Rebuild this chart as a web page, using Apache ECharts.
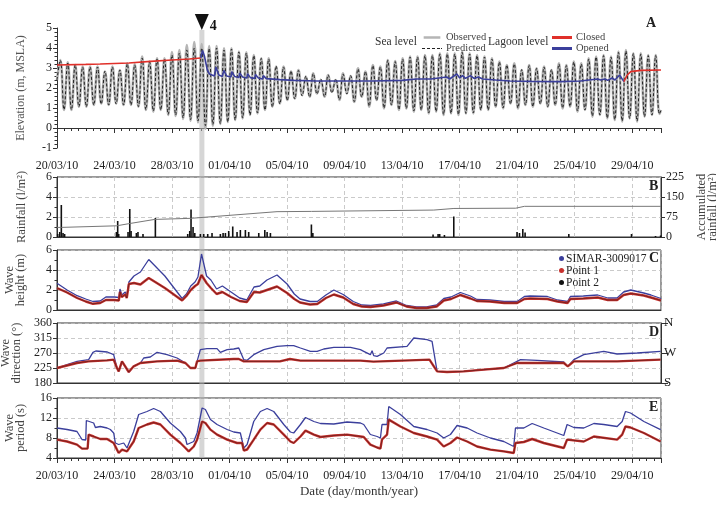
<!DOCTYPE html>
<html>
<head>
<meta charset="utf-8">
<script src="https://cdn.jsdelivr.net/npm/echarts/dist/echarts.min.js"></script>
<style>
  html, body { margin: 0; padding: 0; background: #fff; }
  #main { width: 716px; height: 508px; }
</style>
</head>
<body>
<div id="main"></div>
<script>
// x values are days after 20/03/2010 00:00 (axis runs to 01/05/2010)

// ---- panel A: sea level (high / low water per tide) and lagoon level
var tideStart = 0.23, tidePeriod = 0.5175;
var tideFirst = 2.4, tideLast = 0.9;
var obsHigh = [3.4,3.28,3.15,3.07,3.07,3.07,2.82,3.07,2.9,3.23,3.18,3.57,3.32,3.48,3.48,3.8,3.9,4.15,4.3,4.2,4.1,4.1,3.98,3.98,3.82,3.78,3.65,3.48,3.48,3.07,3.07,2.82,2.9,2.57,2.73,2.4,2.65,2.4,2.73,2.6,
  2.98,2.82,3.15,3.07,3.4,3.35,3.48,3.57,3.57,3.65,3.65,3.73,3.73,3.73,3.82,3.73,3.65,3.57,3.48,3.32,3.15,3.23,2.9,3.15,2.98,3.07,2.9,3.23,3.15,3.32,3.23,3.48,3.57,3.65,3.57,3.82,3.9,3.73,3.73,3.65,3.65];
var obsLow = [0.9,0.9,1.07,1.07,1.15,1.23,1.15,1.23,1.15,1.15,1.07,0.9,0.82,0.9,0.65,0.6,0.45,0.35,0.28,-0.05,0.1,0.2,0.3,0.4,0.48,0.65,0.73,0.9,1.07,1.23,1.4,1.48,1.65,1.57,1.73,1.57,1.82,1.4,1.73,1.3,
  1.57,1.07,1.4,0.98,1.15,0.9,0.98,0.82,0.9,0.73,0.82,0.65,0.73,0.65,0.73,0.73,0.9,0.9,1.07,0.98,1.23,0.98,1.15,1.07,1.23,1.07,1.15,0.98,1.07,0.82,0.9,0.57,0.65,0.48,0.4,0.32,0.48,0.32,0.57,0.65,0.7];
var predHigh = [3.38,3.25,3.15,3.05,3.05,3.05,2.85,3.05,2.9,3.2,3.15,3.5,3.3,3.45,3.45,3.65,3.75,3.9,4.0,4.0,3.98,4.0,3.9,3.95,3.8,3.75,3.62,3.48,3.45,3.1,3.05,2.85,2.88,2.6,2.72,2.45,2.65,2.45,2.7,2.62,
  2.95,2.82,3.12,3.05,3.38,3.32,3.45,3.55,3.55,3.62,3.62,3.7,3.7,3.7,3.78,3.7,3.62,3.55,3.45,3.3,3.15,3.2,2.92,3.12,2.98,3.05,2.92,3.2,3.12,3.3,3.2,3.45,3.55,3.62,3.55,3.78,3.85,3.72,3.7,3.62,3.62];
var predLow = [0.92,0.92,1.07,1.07,1.15,1.2,1.15,1.2,1.15,1.15,1.07,0.92,0.85,0.9,0.68,0.65,0.5,0.42,0.35,0.12,0.18,0.22,0.3,0.4,0.5,0.65,0.75,0.9,1.05,1.2,1.38,1.45,1.6,1.55,1.7,1.57,1.75,1.42,1.7,1.32,
  1.55,1.1,1.38,1.0,1.15,0.92,0.98,0.85,0.9,0.75,0.82,0.68,0.73,0.68,0.73,0.75,0.9,0.9,1.05,1.0,1.2,1.0,1.15,1.07,1.2,1.07,1.15,1.0,1.07,0.85,0.9,0.6,0.65,0.5,0.42,0.35,0.48,0.35,0.57,0.65,0.7];

var closedT1 = [0, 2, 3, 5.0, 5.05, 6.5, 8.0, 9.2, 10.0];
var closedV1 = [3.15, 3.18, 3.2, 3.25, 3.3, 3.33, 3.4, 3.45, 3.5];
var openedT = [10.0, 10.12, 10.25, 10.45, 10.6, 10.95, 11.05, 11.25, 11.5, 11.6, 11.8, 12.1, 12.15, 12.35, 12.65, 12.7, 12.9, 13.2, 13.25, 13.45, 13.75, 13.8, 14.0, 14.3, 14.35, 14.55, 15.5, 16.5, 18, 20, 22, 24, 25, 26, 27.1, 27.3, 27.8, 28.0, 28.2, 28.4, 28.75, 29.0, 29.3, 29.6, 30.5, 31.5, 33, 35, 36.4, 37.0, 37.6, 37.8, 38.1, 38.3, 38.6, 38.8, 39.12, 39.42];
var openedV = [3.5, 3.88, 3.6, 2.9, 2.7, 2.6, 3.05, 2.65, 2.58, 2.88, 2.6, 2.55, 2.82, 2.58, 2.52, 2.75, 2.55, 2.5, 2.72, 2.52, 2.48, 2.68, 2.5, 2.45, 2.62, 2.47, 2.42, 2.38, 2.35, 2.35, 2.35, 2.38, 2.45, 2.45, 2.55, 2.45, 2.7, 2.5, 2.62, 2.48, 2.62, 2.48, 2.55, 2.45, 2.4, 2.35, 2.33, 2.32, 2.35, 2.4, 2.45, 2.4, 2.45, 2.38, 2.5, 2.4, 2.65, 2.32];
var closedT2 = [39.42, 39.65, 39.9, 40.6, 42];
var closedV2 = [2.32, 2.65, 2.82, 2.88, 2.9];
var eventDay = 10.07, eventLabel = '4';

// ---- panel B: rainfall
var rainT = [0.05,0.19,0.30,0.42,0.53,4.13,4.22,4.29,4.94,5.06,5.15,5.52,5.63,5.98,6.84,9.09,9.23,9.32,9.46,9.58,9.97,10.2,10.48,10.78,11.36,11.55,11.71,11.94,12.22,12.52,12.75,13.1,13.33,14.03,14.45,14.61,14.84,17.69,17.79,26.15,26.5,26.61,26.94,27.59,31.99,32.16,32.39,32.55,35.59,39.95,41.62,41.97];
var rainV = [0.3,0.5,3.2,0.4,0.3,0.5,1.6,0.3,0.5,2.8,0.6,0.4,0.5,0.3,1.9,0.3,0.6,2.75,1.0,0.4,0.3,0.3,0.3,0.4,0.3,0.4,0.4,0.6,1.05,0.5,0.7,0.7,0.5,0.4,0.7,0.5,0.4,1.25,0.4,0.25,0.3,0.3,0.2,2.05,0.5,0.4,0.8,0.45,0.3,0.3,0.1,0.15];
var accT = [0, 0.3, 0.32, 4.15, 4.2, 5.0, 5.05, 6.8, 6.85, 9.3, 9.4, 15.3, 17.7, 17.75, 26.2, 27.6, 31.9, 32.5, 42];
var accV = [36, 36, 42, 42, 48, 50, 56, 66, 70, 70, 77, 95, 96, 101, 101, 107, 108, 115, 115];

// ---- panel C: wave height
var heightT = [0,0.7,1.4,2.0,2.5,3.0,3.4,4.0,4.3,4.38,4.5,4.62,4.75,4.85,5.0,5.35,5.8,6.38,7.5,8.7,9.0,9.3,9.6,9.8,10.05,10.4,10.7,11.1,11.5,12.1,12.7,13.2,13.7,14.1,14.6,15.3,16.0,16.5,16.9,17.6,18.1,18.7,19.25,19.9,20.6,21.2,21.8,22.7,23.6,24.3,25.0,25.7,26.4,26.9,27.4,28.05,28.75,29.2,30.1,31.1,32.0,32.5,32.9,34.1,34.8,35.5,35.7,36.6,37.6,38.3,38.95,39.4,39.9,40.8,41.3,42.0];
var heightSimar = [2.67,2.0,1.43,1.1,0.85,0.9,1.3,1.3,1.25,2.1,1.5,1.35,1.8,1.4,2.8,3.4,3.8,5.05,3.4,1.15,1.6,2.4,2.8,3.3,5.6,3.4,3.0,2.1,2.4,1.8,1.2,1.0,2.3,2.4,3.0,3.5,2.6,1.6,1.1,0.85,0.85,1.5,2.0,1.55,0.85,0.5,0.45,0.6,0.9,0.45,0.3,0.3,0.5,1.15,1.3,1.75,1.4,1.05,1.0,0.85,0.85,1.35,1.4,1.35,1.0,0.85,1.35,1.4,1.5,1.2,1.2,1.8,2.0,1.7,1.5,1.15];
var heightP1 = [2.2,1.75,1.2,0.85,0.62,0.7,1.0,1.0,0.95,1.8,1.3,1.15,1.55,1.2,2.6,2.7,2.55,3.2,2.2,0.95,1.4,2.0,2.4,2.6,3.5,2.7,2.2,1.6,1.8,1.3,0.9,0.8,1.8,1.75,2.0,2.35,1.7,1.1,0.75,0.55,0.6,1.2,1.55,1.25,0.6,0.35,0.3,0.45,0.75,0.35,0.2,0.2,0.35,0.95,1.1,1.5,1.15,0.9,0.85,0.7,0.7,1.1,1.15,1.1,0.85,0.7,1.1,1.15,1.25,1.0,1.0,1.5,1.65,1.45,1.25,0.95];

// ---- panel D: wave direction
var dirSimarT = [0,0.7,1.4,2.2,2.5,2.7,3.5,3.94,4.17,4.29,4.52,4.99,5.33,5.8,6.03,6.49,6.96,7.65,8.35,8.93,9.28,9.62,9.74,9.97,10.43,11.13,11.36,11.83,12.29,12.64,12.99,13.22,13.68,14.38,15.3,16.0,16.46,16.93,17.62,18.09,18.55,19.25,20.41,21.1,21.33,21.79,21.91,22.02,22.26,22.72,22.95,24.34,24.81,25.73,26.08,26.43,27.12,28.28,29.68,31.07,31.99,32.23,33.39,35.24,35.52,35.94,36.63,38.02,38.95,40.34,41.97];
var dirSimar = [225,235,245,250,272,276,273,265,225,215,245,212,230,240,255,258,272,265,255,240,225,225,245,280,283,283,272,280,282,285,250,248,265,280,290,292,292,285,275,275,282,287,287,280,275,265,277,262,260,270,285,290,315,310,305,215,213,215,220,225,245,250,248,243,230,250,265,275,267,270,275];
var dirP1T = [0,1.39,2.2,3.48,3.94,4.17,4.29,4.52,4.99,5.33,5.8,6.96,8.35,8.93,9.28,9.62,9.74,9.97,12.29,12.64,12.99,13.68,15.5,16.2,16.93,21.1,22.0,24.5,25.9,26.43,27.12,28.28,29.68,31.07,31.99,35.24,35.52,35.94,38.95,41.97];
var dirP1 = [225,240,245,248,250,225,215,245,213,230,240,245,247,240,225,225,245,247,252,252,245,245,245,252,247,247,244,248,250,215,213,215,220,225,240,240,230,245,245,250];

// ---- panel E: wave period
var perSimarT = [0,0.7,1.39,1.74,2.0,2.04,2.13,2.55,2.67,3.01,3.48,3.71,3.94,4.06,4.29,4.64,4.87,5.33,5.68,6.26,6.72,7.19,7.88,8.58,8.93,9.04,9.51,9.74,10.09,10.32,10.67,11.13,11.83,12.29,12.75,12.99,13.22,13.68,14.14,14.61,15.07,15.77,16.23,16.46,16.93,17.28,17.86,18.32,19.25,20.17,21.1,21.33,21.79,22.26,22.49,22.6,22.95,23.07,23.18,23.88,24.81,25.73,26.43,26.89,27.36,27.82,28.52,29.21,30.14,31.07,31.76,31.88,32.46,33.04,33.85,35.24,35.47,35.94,36.63,37.33,38.02,38.95,39.3,39.53,39.88,40.81,41.97];
var perSimar = [10.0,9.7,9.3,7.7,7.6,11.5,11.5,11.0,10.1,10.3,10.0,9.7,9.0,7.0,6.7,7.0,6.0,9.3,12.7,13.3,13.9,13.3,11.0,9.3,8.0,6.7,7.3,9.0,14.0,13.7,11.7,10.7,9.7,9.2,9.0,6.0,6.7,11.3,13.3,13.9,13.3,10.7,9.2,9.0,10.7,12.1,11.3,10.9,10.8,11.2,11.0,10.7,8.7,8.3,8.0,10.7,10.7,14.3,14.3,12.7,10.3,9.7,9.0,8.0,8.7,10.5,10.0,9.0,8.0,7.3,6.3,10.0,10.0,10.9,10.0,8.5,10.7,10.1,10.0,10.9,10.7,10.3,11.3,13.3,13.0,11.3,9.67];
var perP1T = [0,0.7,1.39,1.74,1.97,2.13,2.2,2.55,3.01,3.48,3.94,4.17,4.29,4.52,4.87,5.33,5.68,6.26,6.72,7.19,7.88,8.58,8.93,9.16,9.51,9.74,10.09,10.32,10.67,11.13,11.83,12.52,12.87,12.99,13.22,13.68,14.14,14.61,15.07,15.77,16.23,16.46,16.93,17.28,17.86,18.32,19.25,20.17,21.1,21.33,21.79,22.26,22.49,22.6,22.95,23.07,23.18,23.88,24.81,25.73,26.43,26.89,27.36,27.82,28.52,29.21,30.14,31.07,31.76,31.88,32.46,33.04,33.85,35.24,35.47,36.63,37.33,38.95,39.3,39.53,39.88,40.81,41.97];
var perP1 = [7.67,7.3,6.67,5.87,5.87,5.9,8.67,8.3,7.8,7.8,7.0,5.67,5.0,5.67,5.33,7.3,10.0,10.7,11.1,10.7,8.67,7.0,6.0,5.33,6.3,7.67,11.3,11.0,9.67,8.67,7.67,7.0,7.0,5.5,5.7,7.67,9.67,11.0,10.7,8.67,7.3,7.0,8.3,9.47,8.67,8.2,8.5,8.67,8.3,8.2,6.67,6.1,5.87,7.7,8.67,11.67,11.9,10.3,9.0,8.3,7.67,6.3,7.0,8.1,7.3,6.3,5.67,5.33,5.0,7.0,7.2,7.8,7.0,6.0,7.67,7.3,8.3,7.67,8.67,10.3,10.1,9.0,7.3];

var dirLabels = {180: 'S', 270: 'W', 360: 'N'};

function zip(t, v) { return t.map(function (x, i) { return [x, v[i]]; }); }
function tideSeries(highs, lows) {
  var pts = [[0, tideFirst]];
  for (var i = 0; i < highs.length; i++) {
    pts.push([tideStart + i * tidePeriod, highs[i]]);
    pts.push([tideStart + (i + 0.5) * tidePeriod, lows[i]]);
  }
  pts.push([42, tideLast]);
  return pts;
}
function pad(n) { return n < 10 ? '0' + n : '' + n; }
function dayLabel(d) {
  var dt = new Date(Date.UTC(2010, 2, 20) + d * 86400000);
  return pad(dt.getUTCDate()) + '/' + pad(dt.getUTCMonth() + 1) + '/10';
}

var FONT = 'Liberation Serif';
var INK = '#222';
var BLUE = '#3b3f9c', RED = '#c8302c', LAGRED = '#e0302a';
var SOLID = 'path://M0,0H20V3H0Z';
var DASHED = 'path://M0,0H3V1H0Z M5,0H8V1H5Z M10,0H13V1H10Z M15,0H18V1H15Z M19,0H20V1H19Z';

var boxed = {show: true, borderColor: '#333', borderWidth: 1};
var grids = [
  {left: 57, right: 55, top: 28, height: 120, outerBoundsMode: 'none'},
  Object.assign({left: 57, right: 55, top: 177, height: 60, outerBoundsMode: 'none'}, boxed),
  Object.assign({left: 57, right: 55, top: 250, height: 60, outerBoundsMode: 'none'}, boxed),
  Object.assign({left: 57, right: 55, top: 323, height: 60, outerBoundsMode: 'none'}, boxed),
  Object.assign({left: 57, right: 55, top: 398, height: 60, outerBoundsMode: 'none'}, boxed)
];
var dash = {show: true, lineStyle: {color: '#bdbdbd', type: [4, 3], width: 0.8}};
function xAxis(i, labels) {
  return {
    type: 'value', gridIndex: i, min: 0, max: 42, interval: 4,
    axisLine: {lineStyle: {color: '#333'}},
    axisTick: {show: labels, length: 5, lineStyle: {color: '#333'}},
    minorTick: {show: labels, splitNumber: 8, length: 3, lineStyle: {color: '#333'}},
    axisLabel: {show: labels, formatter: dayLabel, margin: 12, fontFamily: FONT, fontSize: 12, color: INK},
    splitLine: i === 0 ? {show: false} : dash
  };
}
function yAxis(grid, min, max, interval, name, minorSplit, extra) {
  var a = {
    type: 'value', gridIndex: grid, min: min, max: max, interval: interval,
    name: name, nameLocation: 'middle', nameGap: 31,
    nameTextStyle: {fontFamily: FONT, fontSize: 12.5, color: '#444', lineHeight: 11},
    axisLine: {show: true, lineStyle: {color: '#333'}},
    axisTick: {show: true, length: 4, lineStyle: {color: '#333'}},
    minorTick: {show: minorSplit > 0, splitNumber: minorSplit || 1, length: 2.5, lineStyle: {color: '#333'}},
    axisLabel: {fontFamily: FONT, fontSize: 12, color: INK, margin: 5},
    splitLine: grid === 0 ? {show: false} : dash
  };
  return Object.assign(a, extra || {});
}
var legendText = {fontFamily: FONT, fontSize: 10.5, color: '#444', lineHeight: 10, padding: [0, 0, 0, -1]};

var option = {
  animation: false,
  backgroundColor: '#fff',
  grid: grids,
  xAxis: [
    xAxis(0, true),
    xAxis(1, false),
    xAxis(2, false),
    xAxis(3, false),
    Object.assign(xAxis(4, true), {
      name: 'Date (day/month/year)', nameLocation: 'middle', nameGap: 27,
      nameTextStyle: {fontFamily: FONT, fontSize: 13, color: '#333'}
    })
  ],
  yAxis: [
    yAxis(0, -1, 5, 1, 'Elevation (m, MSLA)', 5, {nameGap: 30, nameTextStyle: {fontFamily: FONT, fontSize: 12, color: '#555'}}),
    yAxis(1, 0, 6, 2, 'Rainfall (l/m²)', 2, {nameGap: 30}),
    yAxis(1, 0, 225, 75, 'Accumulated\nrainfall (l/m²)', 0, {position: 'right', nameRotate: 90, nameGap: 25, splitLine: {show: false}}),
    yAxis(2, 0, 6, 2, 'Wave\nheight (m)', 2),
    yAxis(3, 180, 360, 45, 'Wave\ndirection (°)', 0),
    yAxis(3, 180, 360, 90, '', 0, {position: 'right', splitLine: {show: false},
      axisTick: {show: true, length: 7, lineStyle: {color: '#333'}},
      axisLabel: {fontFamily: FONT, fontSize: 13, color: INK, margin: 3, formatter: function (v) { return dirLabels[v] || ''; }}}),
    yAxis(4, 4, 16, 4, 'Wave\nperiod (s)', 2)
  ],
  legend: [
    {data: [{name: 'Observed', icon: SOLID}, {name: 'Predicted', icon: DASHED}], orient: 'vertical', left: 422, top: 32, padding: 0,
      itemGap: 0, itemWidth: 20, itemHeight: 2.5, selectedMode: false, textStyle: legendText},
    {data: [{name: 'Closed', icon: SOLID}, {name: 'Opened', icon: SOLID}], orient: 'vertical', left: 552, top: 32, padding: 0,
      itemGap: 0, itemWidth: 20, itemHeight: 3, selectedMode: false, textStyle: legendText},
    {data: ['SIMAR-3009017', 'Point 1', 'Point 2'], orient: 'vertical', left: 559, top: 252.5, padding: 0, itemGap: 0, itemWidth: 5, itemHeight: 5,
      icon: 'circle', selectedMode: false, textStyle: {fontFamily: FONT, fontSize: 11.5, color: '#222', lineHeight: 11, padding: [0, 0, 0, -3]}}
  ],
  graphic: {elements: [
    {id: 'sea', type: 'text', left: 375, top: 36, style: {text: 'Sea level', font: '11.5px "Liberation Serif"', fill: '#333'}},
    {id: 'lag', type: 'text', left: 488, top: 36, style: {text: 'Lagoon level', font: '11.5px "Liberation Serif"', fill: '#333'}},
    {id: 'pA', type: 'text', left: 646, top: 16, style: {text: 'A', font: 'bold 14px "Liberation Serif"', fill: '#222'}},
    {id: 'pB', type: 'text', left: 649, top: 179, style: {text: 'B', font: 'bold 14px "Liberation Serif"', fill: '#222'}},
    {id: 'pC', type: 'text', left: 649, top: 251, style: {text: 'C', font: 'bold 14px "Liberation Serif"', fill: '#222'}},
    {id: 'pD', type: 'text', left: 649, top: 325, style: {text: 'D', font: 'bold 14px "Liberation Serif"', fill: '#222'}},
    {id: 'pE', type: 'text', left: 649, top: 400, style: {text: 'E', font: 'bold 14px "Liberation Serif"', fill: '#222'}}
  ]},
  series: [
    {name: 'Observed', type: 'line', xAxisIndex: 0, yAxisIndex: 0, data: tideSeries(obsHigh, obsLow),
      smooth: 0.45, showSymbol: false, symbol: 'none', color: '#b5b5b5', lineStyle: {color: '#b5b5b5', width: 2.6}},
    {name: 'Predicted', type: 'line', xAxisIndex: 0, yAxisIndex: 0, data: tideSeries(predHigh, predLow),
      smooth: 0.45, showSymbol: false, symbol: 'none', color: '#222', lineStyle: {color: '#222', width: 1, type: [3, 2]}},
    {name: 'Closed', type: 'line', xAxisIndex: 0, yAxisIndex: 0, data: zip(closedT1, closedV1),
      showSymbol: false, symbol: 'none', color: LAGRED, lineStyle: {color: LAGRED, width: 1.6}},
    {name: 'Opened', type: 'line', xAxisIndex: 0, yAxisIndex: 0, data: zip(openedT, openedV),
      showSymbol: false, symbol: 'none', color: BLUE, lineStyle: {color: BLUE, width: 1.6}},
    {name: 'Closed', type: 'line', xAxisIndex: 0, yAxisIndex: 0, data: zip(closedT2, closedV2),
      showSymbol: false, symbol: 'none', color: LAGRED, lineStyle: {color: LAGRED, width: 1.6}},

    {name: 'Rainfall', type: 'bar', xAxisIndex: 1, yAxisIndex: 1, data: zip(rainT, rainV),
      barWidth: 1.6, itemStyle: {color: '#111'}},
    {name: 'Accumulated', type: 'line', xAxisIndex: 1, yAxisIndex: 2, data: zip(accT, accV),
      showSymbol: false, symbol: 'none', lineStyle: {color: '#777', width: 1}},

    {name: 'SIMAR-3009017', type: 'line', xAxisIndex: 2, yAxisIndex: 3, data: zip(heightT, heightSimar),
      showSymbol: false, symbol: 'none', color: BLUE, lineStyle: {color: BLUE, width: 1.3}},
    {name: 'Point 1', type: 'line', xAxisIndex: 2, yAxisIndex: 3, data: zip(heightT, heightP1),
      showSymbol: false, symbol: 'none', color: RED, lineStyle: {color: RED, width: 2.4}},
    {name: 'Point 2', type: 'line', xAxisIndex: 2, yAxisIndex: 3, data: zip(heightT, heightP1),
      showSymbol: false, symbol: 'none', color: '#111', lineStyle: {color: '#111', width: 0.8, opacity: 0.55}},

    {name: 'SIMAR-3009017', type: 'line', xAxisIndex: 3, yAxisIndex: 4, data: zip(dirSimarT, dirSimar),
      showSymbol: false, symbol: 'none', color: BLUE, lineStyle: {color: BLUE, width: 1.3}},
    {name: 'Point 1', type: 'line', xAxisIndex: 3, yAxisIndex: 4, data: zip(dirP1T, dirP1),
      showSymbol: false, symbol: 'none', color: RED, lineStyle: {color: RED, width: 2.4}},
    {name: 'Point 2', type: 'line', xAxisIndex: 3, yAxisIndex: 4, data: zip(dirP1T, dirP1),
      showSymbol: false, symbol: 'none', color: '#111', lineStyle: {color: '#111', width: 0.8, opacity: 0.55}},

    {name: 'SIMAR-3009017', type: 'line', xAxisIndex: 4, yAxisIndex: 6, data: zip(perSimarT, perSimar),
      showSymbol: false, symbol: 'none', color: BLUE, lineStyle: {color: BLUE, width: 1.3}},
    {name: 'Point 1', type: 'line', xAxisIndex: 4, yAxisIndex: 6, data: zip(perP1T, perP1),
      showSymbol: false, symbol: 'none', color: RED, lineStyle: {color: RED, width: 2.4}},
    {name: 'Point 2', type: 'line', xAxisIndex: 4, yAxisIndex: 6, data: zip(perP1T, perP1),
      showSymbol: false, symbol: 'none', color: '#111', lineStyle: {color: '#111', width: 0.8, opacity: 0.55}}
  ]
};

var chart = echarts.init(document.getElementById('main'), null, {renderer: 'canvas'});
chart.setOption(option);

// grey band and triangle marking event 4, placed through the axes of panels A and E
var bx0 = chart.convertToPixel({xAxisIndex: 0}, eventDay - 0.17);
var bx1 = chart.convertToPixel({xAxisIndex: 0}, eventDay + 0.18);
var bxc = chart.convertToPixel({xAxisIndex: 0}, eventDay);
var yTop = chart.convertToPixel({yAxisIndex: 0}, 5);
var by0 = chart.convertToPixel({yAxisIndex: 0}, 4.9);
var by1 = chart.convertToPixel({yAxisIndex: 6}, 4);
chart.setOption({graphic: {elements: [
  {id: 'band', type: 'rect', z: 1, silent: true,
    shape: {x: bx0, y: by0, width: bx1 - bx0, height: by1 - by0},
    style: {fill: 'rgba(180,180,180,0.55)'}},
  {id: 'tri', type: 'polygon', z: 5, silent: true,
    shape: {points: [[bxc - 7, yTop - 14], [bxc + 7, yTop - 14], [bxc, yTop + 2]]},
    style: {fill: '#111'}},
  {id: 'triLabel', type: 'text', z: 5, silent: true, x: bxc + 8, y: yTop - 9,
    style: {text: eventLabel, font: 'bold 14px "Liberation Serif"', fill: '#111'}}
]}});
</script>
</body>
</html>
